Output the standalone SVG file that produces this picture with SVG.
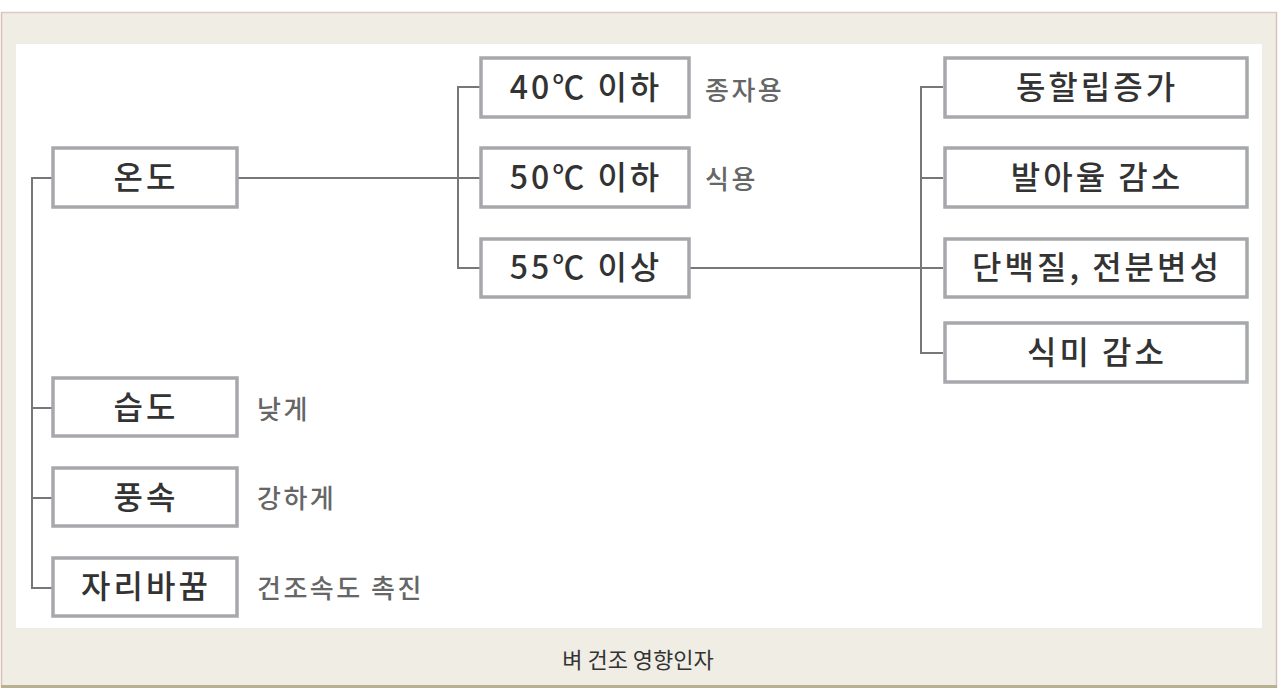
<svg xmlns="http://www.w3.org/2000/svg" width="1280" height="697" viewBox="0 0 1280 697">
<style>
.box{fill:#fff;stroke:#a7a8ab;stroke-width:3.5}
.t{font-family:"Noto Sans CJK KR","Noto Sans",sans-serif;font-size:32px;fill:#333;text-anchor:middle;font-weight:500;letter-spacing:3px}
.s{font-family:"Noto Sans CJK KR","Noto Sans",sans-serif;font-size:26px;fill:#666;font-weight:500;letter-spacing:2.5px}
.c{font-family:"Noto Sans CJK KR","Noto Sans",sans-serif;font-size:22px;fill:#333;text-anchor:middle}
.ln{fill:none;stroke:#777;stroke-width:2}
</style>
<rect x="0" y="0" width="1280" height="697" fill="#fff"/>
<rect x="1" y="12" width="1276" height="676" fill="#f0ede5"/>
<line x1="1" y1="12.5" x2="1277" y2="12.5" stroke="#dccbc4" stroke-width="1.5"/>
<line x1="1.5" y1="12" x2="1.5" y2="688" stroke="#d6c2bb" stroke-width="1.5"/>
<line x1="1276.5" y1="12" x2="1276.5" y2="688" stroke="#d6c2bb" stroke-width="1.5"/>
<line x1="1" y1="686.5" x2="1277" y2="686.5" stroke="#b8b190" stroke-width="3"/>
<rect x="16" y="44" width="1246" height="584" fill="#fff"/>
<g id="connectors">
<path class="ln" d="M52 178 H32 V588 H52 M32 408 H52 M32 498 H52"/>
<path class="ln" d="M238 178 H480 M480 87 H458 V268 H480"/>
<path class="ln" d="M690 268 H943 M943 87 H921 V353 H943 M921 178 H943"/>
</g>
<g id="n-ondo"><rect class="box" x="53" y="148" width="184" height="59"/><text class="t" x="146" y="189">온도</text></g>
<g id="n-seupdo"><rect class="box" x="53" y="378" width="184" height="58"/><text class="t" x="146" y="419">습도</text><text class="s" x="257" y="419">낮게</text></g>
<g id="n-pungsok"><rect class="box" x="53" y="468" width="184" height="58"/><text class="t" x="146" y="509">풍속</text><text class="s" x="257" y="508">강하게</text></g>
<g id="n-jaribakkum"><rect class="box" x="53" y="558" width="184" height="58"/><text class="t" x="146" y="598">자리바꿈</text><text class="s" x="257" y="598">건조속도 촉진</text></g>
<g id="n-40"><rect class="box" x="481" y="58" width="208" height="59"/><text class="t" x="586" y="99">40℃ 이하</text><text class="s" x="705" y="100">종자용</text></g>
<g id="n-50"><rect class="box" x="481" y="148" width="208" height="59"/><text class="t" x="586" y="189">50℃ 이하</text><text class="s" x="705" y="189">식용</text></g>
<g id="n-55"><rect class="box" x="481" y="239" width="208" height="58"/><text class="t" x="586" y="279">55℃ 이상</text></g>
<g id="n-r1"><rect class="box" x="945" y="58" width="302" height="59"/><text class="t" x="1097" y="99">동할립증가</text></g>
<g id="n-r2"><rect class="box" x="945" y="148" width="302" height="59"/><text class="t" x="1097" y="189">발아율 감소</text></g>
<g id="n-r3"><rect class="box" x="945" y="239" width="302" height="58"/><text class="t" x="1097" y="279">단백질, 전분변성</text></g>
<g id="n-r4"><rect class="box" x="945" y="323" width="302" height="59"/><text class="t" x="1097" y="364">식미 감소</text></g>
<text class="c" x="638" y="668">벼 건조 영향인자</text>
</svg>
